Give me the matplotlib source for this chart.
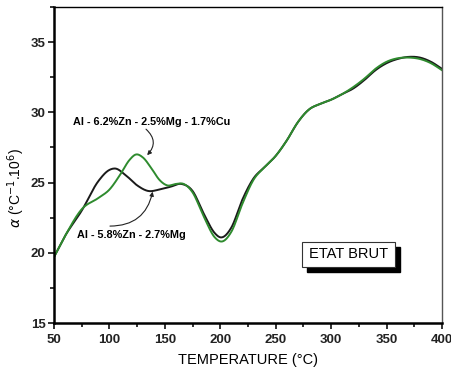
import matplotlib
matplotlib.use("Agg")
import matplotlib.pyplot as plt
from matplotlib.patches import Rectangle
from matplotlib.ticker import MultipleLocator
import numpy as np

plt.rcParams['font.family'] = ['Liberation Sans', 'DejaVu Sans']

# Series: Al-6.2%Zn-2.5%Mg-1.7%Cu (green)
t_green = [50, 60, 75, 90, 100, 110, 118, 124, 130, 138, 145, 152, 160, 167, 175, 185, 195, 201, 210, 220, 230, 240,
           250, 260, 270, 280, 290, 300, 310, 320, 330, 340, 350, 360, 370, 380, 390, 400]
a_green = [19.7, 21.2, 23.1, 23.9, 24.5, 25.6, 26.6, 27.0, 26.8, 26.0, 25.2, 24.8, 24.9, 24.9, 24.3, 22.6, 21.1, 20.8, 21.5, 23.5, 25.2, 26.1,
           26.9, 28.0, 29.3, 30.2, 30.6, 30.9, 31.3, 31.8, 32.4, 33.1, 33.6, 33.85, 33.9, 33.8, 33.5, 33.0]

# Series: Al-5.8%Zn-2.7%Mg (black)
t_black = [50, 60, 75, 90, 100, 105, 115, 125, 135, 145, 155, 165, 175, 185, 195, 200, 210, 220, 230, 240,
           250, 260, 270, 280, 290, 300, 310, 320, 330, 340, 350, 360, 370, 380, 390, 400]
a_black = [19.7, 21.2, 23.0, 25.1, 25.9, 26.0, 25.5, 24.8, 24.4, 24.5, 24.7, 24.9, 24.4, 22.8, 21.4, 21.1, 21.8, 23.8, 25.3, 26.1,
           26.9, 28.0, 29.3, 30.2, 30.6, 30.9, 31.3, 31.7, 32.3, 33.0, 33.5, 33.8, 33.95, 33.9, 33.6, 33.1]

label_cu = "Al - 6.2%Zn - 2.5%Mg - 1.7%Cu"
label_mg = "Al - 5.8%Zn - 2.7%Mg"
box_text = "ETAT BRUT"
xticks = [50, 100, 150, 200, 250, 300, 350, 400]
yticks = [15, 20, 25, 30, 35]

fig = plt.figure(figsize=(4.51, 3.78), dpi=100)
ax = fig.add_axes([54/451, 1-323/378, (442-54)/451, (323-7)/378])

def smooth(t, a):
    t = np.asarray(t, float); a = np.asarray(a, float)
    tt = np.linspace(t[0], t[-1], 700)
    m = np.gradient(a, t)
    idx = np.clip(np.searchsorted(t, tt) - 1, 0, len(t) - 2)
    h = t[idx+1] - t[idx]
    s = (tt - t[idx]) / h
    h00 = 2*s**3 - 3*s**2 + 1; h10 = s**3 - 2*s**2 + s
    h01 = -2*s**3 + 3*s**2; h11 = s**3 - s**2
    out = h00*a[idx] + h10*h*m[idx] + h01*a[idx+1] + h11*h*m[idx+1]
    return tt, out

tb, ab = smooth(t_black, a_black)
tg, ag = smooth(t_green, a_green)
ax.plot(tb, ab, color='#1a1a1a', lw=1.4)
ax.plot(tg, ag, color='#2e8b2e', lw=1.4)

ax.set_xlim(50, 400)
ax.set_ylim(15, 37.5)
ax.set_xticks(xticks)
ax.set_yticks(yticks)
ax.xaxis.set_minor_locator(MultipleLocator(25))
ax.yaxis.set_minor_locator(MultipleLocator(2.5))
ax.tick_params(which='both', direction='out', width=1.3, colors='#222222')
ax.tick_params(which='major', length=4, labelsize=9.5)
ax.tick_params(axis='x', which='major', pad=4)
ax.tick_params(axis='y', which='major', pad=2)
ax.tick_params(which='minor', length=3)
for lab in ax.get_xticklabels() + ax.get_yticklabels():
    lab.set_fontweight('bold')
ax.spines['left'].set_linewidth(1.8)
ax.spines['bottom'].set_linewidth(1.8)
ax.spines['top'].set_linewidth(1.0)
ax.spines['right'].set_linewidth(1.0)
ax.spines['right'].set_color('#555555')

ax.set_xlabel("TEMPERATURE (°C)", fontsize=10.5, labelpad=5)
ax.set_ylabel(r"$\alpha$ (°C$^{-1}$.10$^{6}$)", fontsize=10)
ax.yaxis.set_label_coords(-0.07, 0.427)

ax.text(138, 29.3, label_cu, fontsize=7.8, fontweight='bold', ha='center', va='center')
ax.text(120, 21.3, label_mg, fontsize=7.8, fontweight='bold', ha='center', va='center')
ax.annotate('', xy=(134, 26.95), xytext=(133, 28.8),
            arrowprops=dict(arrowstyle='-|>', color='#222222', lw=0.8, mutation_scale=6,
                            shrinkA=0, shrinkB=0, connectionstyle='arc3,rad=-0.5'))
ax.annotate('', xy=(139, 24.35), xytext=(100.5, 21.9),
            arrowprops=dict(arrowstyle='-|>', color='#222222', lw=0.8, mutation_scale=6,
                            shrinkA=0, shrinkB=0, connectionstyle='arc3,rad=0.4'))

# ETAT BRUT box with shadow
bx0, bx1 = 302/451, 395/451
by0, by1 = 1-267/378, 1-242/378
fig.patches.append(Rectangle((bx0 + 5/451, by0 - 5/378), bx1-bx0, by1-by0, transform=fig.transFigure,
                             facecolor='black', edgecolor='black', zorder=5))
fig.patches.append(Rectangle((bx0, by0), bx1-bx0, by1-by0, transform=fig.transFigure,
                             facecolor='white', edgecolor='#333333', lw=0.8, zorder=6))
fig.text((bx0+bx1)/2, (by0+by1)/2, box_text, fontsize=10.5, ha='center', va='center', zorder=7)

fig.savefig("out.png", dpi=100)
